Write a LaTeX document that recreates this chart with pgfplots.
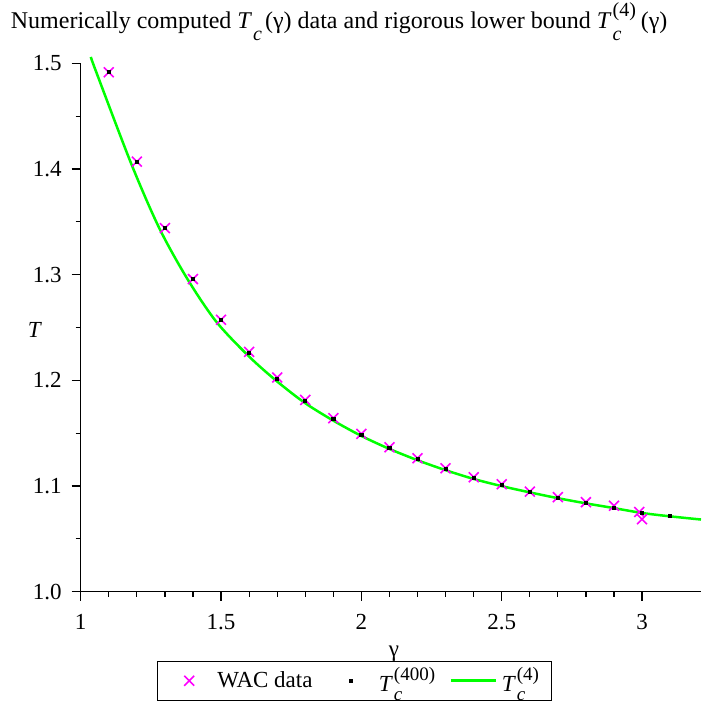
\documentclass[border=0pt]{standalone}
\usepackage{fontspec}
\setmainfont{Liberation Serif}
\usepackage{pgfplots}
\pgfplotsset{compat=1.18}
\definecolor{mgreen}{RGB}{0,255,0}
\definecolor{mmag}{RGB}{255,0,255}
\pgfplotsset{markleg/.style={legend image code/.code={\path[draw=none,fill=none] (0cm,0cm) -- (0.85cm,0cm); \draw[##1,draw=none] plot coordinates {(0.425cm,0cm)};}}}
% T with subscript c and optional superscript, Maple-like placement
\newcommand{\Tcsym}[4]{\textit{T}\kern0.04em\rlap{\raisebox{#3}{\fontsize{#4}{#4}\selectfont\itshape c}}\raisebox{#2}{\fontsize{#4}{#4}\selectfont #1}}
\begin{document}
\begin{tikzpicture}[x=1pt,y=1pt]
\path[use as bounding box] (-40.35,-57.15) rectangle (310.15,295.85);
\begin{axis}[
  at={(0,0)}, anchor=south west,
  scale only axis, width=310.15pt, height=264.2pt,
  xmin=1, xmax=3.21, ymin=1, ymax=1.5,
  axis lines*=left,
  clip=false,
  xtick={1,1.5,2,2.5,3}, minor x tick num=4,
  ytick={1.0,1.1,1.2,1.3,1.4,1.5}, minor y tick num=1,
  tick align=outside,
  major tick length=4.5pt, minor tick length=2.5pt,
  tick style={black, line width=0.6pt},
  axis line style={line width=0.6pt},
  tick label style={font=\fontsize{11.5}{13}\selectfont},
  xticklabel style={yshift=-3.5pt},
  yticklabel style={xshift=-1.5pt},
  /pgf/number format/assume math mode=true,
  yticklabel style={/pgf/number format/.cd,fixed,fixed zerofill,precision=1},
  legend columns=3,
  legend style={at={(0.4406,-0.131)}, anchor=north, draw=black,
    font=\fontsize{11.5}{13}\selectfont, inner ysep=0.8pt, inner xsep=4pt,
    /tikz/every even column/.append style={column sep=5pt}},
  legend image code/.code={\draw[#1] (0cm,0cm) -- (0.85cm,0cm);},
]
\addplot[mgreen, line width=1.25pt, smooth, forget plot] coordinates {
(1.036,1.506)(1.055,1.492)(1.18,1.405)(1.28,1.344)(1.38,1.296)(1.483,1.2555)
(1.6,1.2225)(1.7,1.1989)(1.8,1.1784)(1.9,1.1619)(2.0,1.1474)(2.1,1.1351)
(2.2,1.1244)(2.3,1.1150)(2.4,1.1067)(2.5,1.0999)(2.6,1.0940)(2.7,1.0885)
(2.8,1.0836)(2.9,1.0791)(3.0,1.0745)(3.1,1.0713)(3.21,1.0683)};
\addplot[only marks, mark=x, mark size=3.5pt, mmag, mark options={line width=0.8pt}, markleg] coordinates {
(1.1,1.4915)(1.2,1.4069)(1.3,1.3441)(1.4,1.2958)(1.5,1.2573)(1.6,1.2270)
(1.7,1.2027)(1.8,1.1815)(1.9,1.1642)(2.0,1.1493)(2.1,1.1367)(2.2,1.1263)
(2.3,1.1168)(2.4,1.1083)(2.5,1.1017)(2.6,1.0947)(2.7,1.0894)(2.8,1.0847)
(2.9,1.0814)(2.99,1.0755)(3.0,1.0686)};
\addplot[only marks, mark=square*, mark size=0.8pt, black, markleg] coordinates {
(1.1,1.4915)(1.2,1.4069)(1.3,1.3441)(1.4,1.2958)(1.5,1.2570)(1.6,1.2258)
(1.7,1.2011)(1.8,1.1803)(1.9,1.1633)(2.0,1.1484)(2.1,1.1361)(2.2,1.1254)
(2.3,1.1159)(2.4,1.1074)(2.5,1.1010)(2.6,1.0941)(2.7,1.0884)(2.8,1.0837)
(2.9,1.0790)(3.0,1.0742)(3.1,1.0714)};
\addlegendimage{mgreen, legend image code/.code={\draw[mgreen,line width=1.6pt] (0cm,0cm) -- (0.8cm,0cm);}}
\legend{WAC data, \Tcsym{(400)}{0.5em}{-0.38em}{9.5pt}, \Tcsym{(4)}{0.5em}{-0.38em}{9.5pt}}
\node[font=\fontsize{12}{14}\selectfont] at (axis description cs:0.4166,1.0782)
  {Numerically computed \Tcsym{\phantom{c}\kern0.15em}{0pt}{-0.5em}{10pt}(γ) data and rigorous lower bound \Tcsym{(4)}{0.5em}{-0.5em}{10pt}\kern0.2em(γ)};
\node[font=\fontsize{11.5}{13}\selectfont] at (axis description cs:-0.0737,0.4953) {\textit{T}};
\node[font=\fontsize{11.5}{13}\selectfont] at (axis description cs:0.5051,-0.117) {γ};
\end{axis}
\end{tikzpicture}
\end{document}
